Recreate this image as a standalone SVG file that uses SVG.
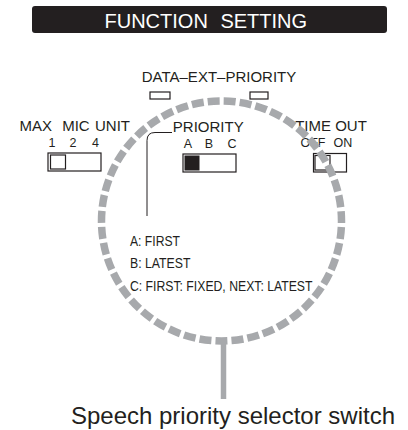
<svg xmlns="http://www.w3.org/2000/svg" width="408" height="430" viewBox="0 0 408 430">
<style>
text{font-family:"Liberation Sans",Arial,sans-serif;fill:#231f20}
.lbl{font-size:15px}
.sm{font-size:12.5px}
.leg{font-size:15px}
.box{fill:#fff;stroke:#231f20;stroke-width:1.2}
.ring{fill:none;stroke:#a7a9ac;stroke-width:7.5}
</style>
<rect width="408" height="430" fill="#fff"/>
<g id="title">
<rect x="32" y="6" width="355" height="27" rx="3" fill="#231f20"/>
<text x="104.5" y="27.5" font-size="20" style="fill:#fff" word-spacing="7">FUNCTION SETTING</text>
</g>
<g id="data-ext-priority">
<text class="lbl" x="219" y="82" text-anchor="middle">DATA–EXT–PRIORITY</text>
<rect class="box" x="150" y="92" width="20" height="7"/>
<rect class="box" x="250" y="92" width="18" height="7"/>
</g>
<g id="max-mic-unit">
<text class="lbl" x="19.6" y="131">MAX</text>
<text class="lbl" x="62.2" y="131">MIC</text>
<text class="lbl" x="95" y="131">UNIT</text>
<text class="sm" x="52" y="147" text-anchor="middle">1</text>
<text class="sm" x="73" y="147" text-anchor="middle">2</text>
<text class="sm" x="95.5" y="147" text-anchor="middle">4</text>
<rect class="box" x="48" y="153" width="53" height="18"/>
<rect class="box" x="50.5" y="155" width="15" height="14"/>
</g>
<g id="priority">
<text class="lbl" x="172.8" y="131.5">PRIORITY</text>
<text class="sm" x="188" y="147.5" text-anchor="middle">A</text>
<text class="sm" x="209" y="147.5" text-anchor="middle">B</text>
<text class="sm" x="232" y="147.5" text-anchor="middle">C</text>
<rect class="box" x="183" y="154" width="53" height="18"/>
<rect x="184.5" y="155.5" width="15" height="15" fill="#231f20"/>
</g>
<g id="time-out">
<text class="lbl" x="331" y="131" text-anchor="middle">TIME OUT</text>
<text class="sm" x="300.5" y="147.3">OFF</text>
<text class="sm" x="333.5" y="147.3">ON</text>
<rect class="box" x="313.5" y="153.5" width="33" height="18.5"/>
<rect class="box" x="315" y="155.5" width="15" height="14.5"/>
</g>
<g id="legend">
<text class="leg" x="130" y="246" textLength="50" lengthAdjust="spacingAndGlyphs">A: FIRST</text>
<text class="leg" x="130" y="268.3" textLength="60.5" lengthAdjust="spacingAndGlyphs">B: LATEST</text>
<text class="leg" x="130" y="291" textLength="182.5" lengthAdjust="spacingAndGlyphs">C: FIRST: FIXED, NEXT: LATEST</text>
</g>
<g id="connectors">
<path d="M172 132.5 H155 Q147 132.5 147 140.5 V216" fill="none" stroke="#231f20" stroke-width="1"/>
<circle class="ring" cx="221.5" cy="221" r="120" stroke-dasharray="12 4.04" stroke-dashoffset="10"/>
<line x1="223.5" y1="341" x2="223.5" y2="399" stroke="#a7a9ac" stroke-width="5.5"/>
</g>
<g id="caption">
<text x="233" y="424" font-size="24" text-anchor="middle">Speech priority selector switch</text>
</g>
</svg>
